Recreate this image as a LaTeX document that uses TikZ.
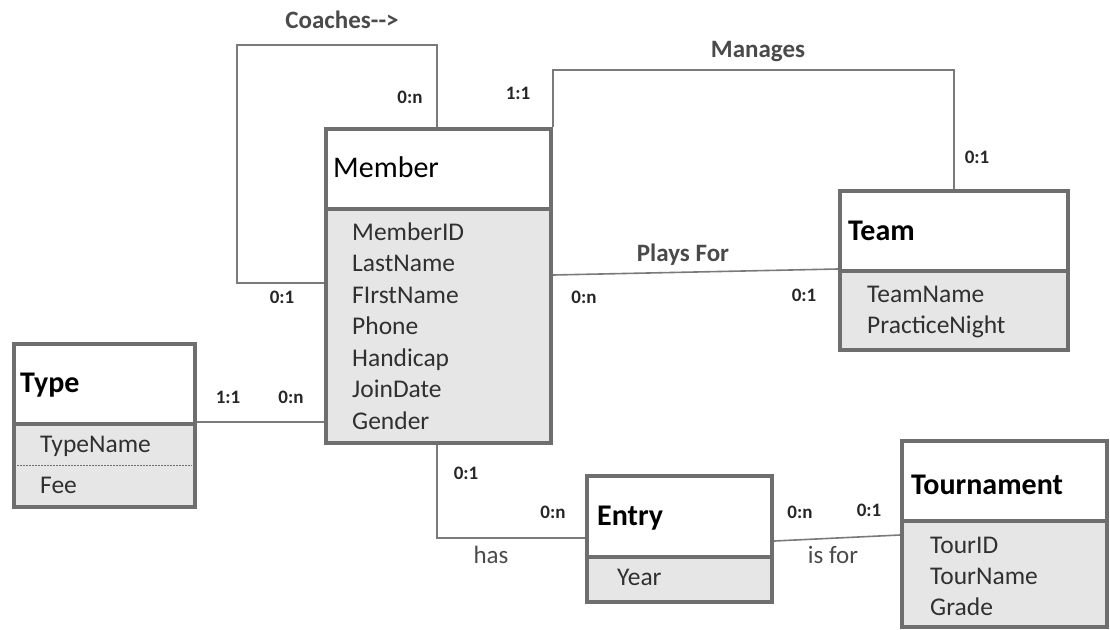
\documentclass[tikz,border=0pt]{standalone}
\usepackage{fontspec}
\setmainfont{Carlito}
\usetikzlibrary{calc}
\definecolor{bordc}{HTML}{6E6E6E}
\definecolor{attrfill}{HTML}{E6E6E6}
\definecolor{lblc}{HTML}{4A4A4A}
\definecolor{connc}{HTML}{7A7A7A}
\definecolor{attrc}{HTML}{303030}
\tikzset{
  box/.style={draw=bordc, line width=4pt, anchor=north west, inner sep=0pt, minimum width=#1},
  hdrbox/.style={box=#1, fill=white, minimum height=80pt},
  attrbox/.style={box=#1, fill=attrfill},
  hdrtext/.style={anchor=base west, inner sep=0pt, font=\fontsize{30}{36}\selectfont\bfseries},
  attrtext/.style={anchor=base west, inner sep=0pt, text=attrc, font=\fontsize{25.5}{30}\selectfont},
  card/.style={inner sep=0pt, text=black!85, font=\fontsize{19}{22}\selectfont\bfseries},
  rel/.style={inner sep=0pt, text=lblc, font=\fontsize{25}{30}\selectfont\bfseries},
  relr/.style={inner sep=0pt, text=lblc, font=\fontsize{25}{30}\selectfont},
  conn/.style={draw=connc, line width=1.6pt}
}
\begin{document}
\begin{tikzpicture}[x=1pt,y=-1pt]
\useasboundingbox (0,0) rectangle (1110,629);
\begin{scope}
\clip (0,0) rectangle (1110,629);
% connectors
\coordinate (cA) at (237,45);
\coordinate (cB) at (0,283);
\coordinate (cM) at (750,70);
\coordinate (cH) at (500,538);
\coordinate (cP) at (0,275);

% Member
\node[attrbox=225pt, minimum height=234pt] (memberA) at (324,207) {};
\node[hdrbox=225pt] (memberH) at (324,127) {};
% Team
\node[attrbox=228pt, minimum height=79pt] (teamA) at (838,269) {};
\node[hdrbox=228pt] (teamH) at (838,189) {};
% Type
\node[attrbox=181pt, minimum height=83pt] (typeA) at (12,422) {};
\node[hdrbox=181pt] (typeH) at (12,342) {};
% Entry
\node[attrbox=185pt, minimum height=45pt] (entryA) at (585,555) {};
\node[hdrbox=185pt, minimum height=81pt] (entryH) at (585,474) {};
% Tournament
\node[attrbox=205pt, minimum height=106pt] (tourA) at (900,519) {};
\node[hdrbox=205pt] (tourH) at (900,439) {};

\draw[conn] ([xshift=113pt]memberH.north west) |- (cA) |- (memberA.west |- cB);
\draw[conn] (memberH.north east) |- (cM) -| (teamH.north);
\draw[conn] (memberA.east |- cP) -- (teamA.north west);
\draw[conn] (typeA.north east) -- (typeA.north east -| memberA.west);
\draw[conn] ([xshift=113pt]memberA.south west) |- (entryH.west |- cH);
\draw[conn] ([yshift=18pt]entryH.south east) -- ([yshift=-16pt]tourA.north west);

% redraw borders over connector ends
\node[attrbox=225pt, minimum height=234pt] at (324,207) {};
\node[hdrbox=225pt] at (324,127) {};

\draw[bordc, line width=0.8pt, dashed, dash pattern=on 2pt off 1pt] ([xshift=5pt,yshift=-43pt]typeA.north west) coordinate (d1) -- ([xshift=-5pt,yshift=-43pt]typeA.north east) coordinate (d2);

% header texts
\node[hdrtext, font=\fontsize{30}{36}\selectfont] (tM) at (333,177) {Member};
\node[hdrtext] (tT) at (848,240) {Team};
\node[hdrtext] (tY) at (20,392) {Type};
\node[hdrtext] (tE) at (597,525) {Entry};
\node[hdrtext] (tR) at (911,494) {Tournament};

% attributes
\foreach \t [count=\i from 0] in {MemberID,LastName,FIrstName,Phone,Handicap,JoinDate,Gender}
  \node[attrtext] (ma\i) at (352,{240+31.5*\i}) {\t};
\node[attrtext] (ta1) at (867,302) {TeamName};
\node[attrtext] (ta2) at (867,333) {PracticeNight};
\node[attrtext] (ya1) at (40,452) {TypeName};
\node[attrtext] (ya2) at (40,493) {Fee};
\node[attrtext] (ea1) at (617,585) {Year};
\node[attrtext] (ra1) at (930,553) {TourID};
\node[attrtext] (ra2) at (930,584) {TourName};
\node[attrtext] (ra3) at (930,615) {Grade};

% relationship labels
\node[rel] (lC) at (342,20) {Coaches-{}-{}>};
\node[rel] (lM) at (758,52) {Manages};
\node[rel] (lP) at (683,255) {Plays For};
\node[relr] (lH) at (491,555) {has};
\node[relr] (lI) at (833,555) {is for};

% cardinalities
\node[card] (k1) at (410,97) {0:n};
\node[card] (k2) at (282,297) {0:1};
\node[card] (k3) at (518,93) {1:1};
\node[card] (k4) at (977,157) {0:1};
\node[card] (k5) at (584,297) {0:n};
\node[card] (k6) at (804,295) {0:1};
\node[card] (k7) at (228,397) {1:1};
\node[card] (k8) at (291,397) {0:n};
\node[card] (k9) at (466,473) {0:1};
\node[card] (k10) at (553,512) {0:n};
\node[card] (k11) at (800,512) {0:n};
\node[card] (k12) at (869,510) {0:1};
\end{scope}
\end{tikzpicture}
\end{document}
